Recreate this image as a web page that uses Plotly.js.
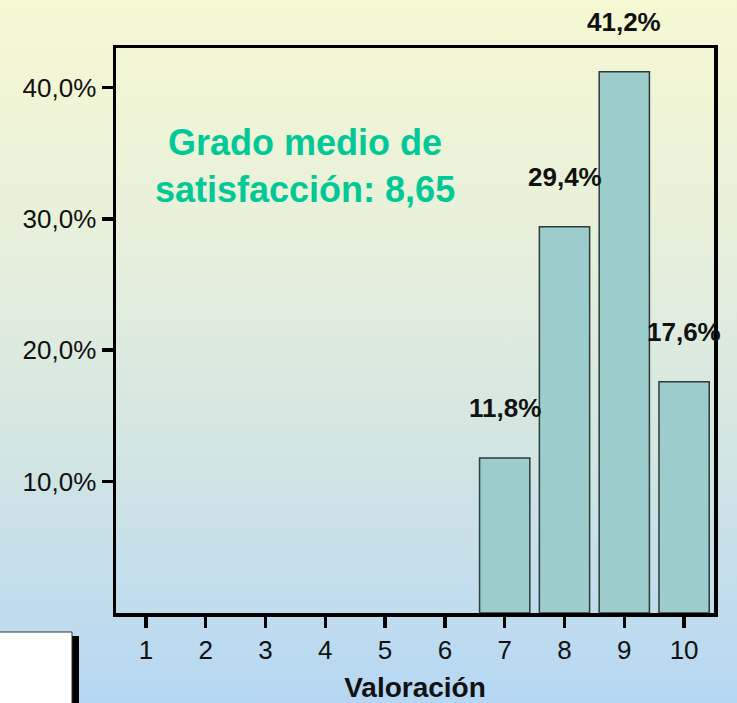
<!DOCTYPE html>
<html>
<head>
<meta charset="utf-8">
<script src="https://cdn.plot.ly/plotly-3.0.1.min.js"></script>
<style>
  html, body { margin: 0; padding: 0; }
  #chart { width: 737px; height: 703px;
    background: linear-gradient(to bottom, #f6f8d3 0%, #e9f1da 30%, #d6e7e2 60%, #b6d7f3 100%); }
</style>
</head>
<body>
<div id="chart"></div>
<script>
// Data
const categories = [1, 2, 3, 4, 5, 6, 7, 8, 9, 10];
const percentages = [0, 0, 0, 0, 0, 0, 11.8, 29.4, 41.2, 17.6];
const valueLabels = ["", "", "", "", "", "", "11,8%", "29,4%", "41,2%", "17,6%"];
const yTickVals = [10, 20, 30, 40];
const yTickText = ["10,0%", "20,0%", "30,0%", "40,0%"];
const xTitle = "Valoración";
const noteLines = ["Grado medio de", "satisfacción: 8,65"];

const font = "Arial, 'Liberation Sans', sans-serif";

const trace = {
  type: "bar",
  x: categories,
  y: percentages,
  width: 0.84,
  marker: {
    color: "rgb(156,204,204)",
    line: { color: "#2f3a3a", width: percentages.map(v => (v > 0 ? 1.5 : 0)) }
  },
  hoverinfo: "skip"
};

const annotations = [];
categories.forEach((c, i) => {
  if (valueLabels[i]) {
    annotations.push({
      x: c, y: percentages[i], xref: "x", yref: "y",
      text: "<b>" + valueLabels[i] + "</b>",
      showarrow: false, yshift: 50,
      font: { family: font, size: 26, color: "#111" }
    });
  }
});
annotations.push({
  x: 3.66, y: 34.0, xref: "x", yref: "y",
  text: "<b>" + noteLines.join("<br>") + "</b>",
  showarrow: false,
  font: { family: font, size: 36, color: "#00c896" }
});

const layout = {
  width: 737, height: 703,
  margin: { l: 116, r: 23, t: 48, b: 90 },
  paper_bgcolor: "rgba(0,0,0,0)",
  plot_bgcolor: "rgba(0,0,0,0)",
  showlegend: false,
  xaxis: {
    range: [0.5, 10.5],
    tickvals: categories,
    ticktext: categories.map(String),
    ticks: "outside", ticklen: 11, tickwidth: 3.5, tickcolor: "#000",
    showline: true, linewidth: 3.5, linecolor: "#000", mirror: true,
    showgrid: false, zeroline: false, fixedrange: true,
    tickfont: { family: font, size: 26, color: "#111" },
    title: { text: "<b>" + xTitle + "</b>", font: { family: font, size: 28, color: "#111" }, standoff: 16 }
  },
  yaxis: {
    range: [0, 43],
    tickvals: yTickVals,
    ticktext: yTickText,
    ticks: "outside", ticklen: 11, tickwidth: 3.5, tickcolor: "#000",
    showline: true, linewidth: 3.5, linecolor: "#000", mirror: true,
    showgrid: false, zeroline: false, fixedrange: true,
    tickfont: { family: font, size: 26, color: "#111" }
  },
  annotations: annotations,
  shapes: [
    { type: "rect", xref: "paper", yref: "paper", x0: (72 - 116) / 598, x1: (79 - 116) / 598,
      y0: (613 - 636) / 565, y1: (613 - 710) / 565, fillcolor: "#000", line: { width: 0 } },
    { type: "rect", xref: "paper", yref: "paper", x0: (-5 - 116) / 598, x1: (72 - 116) / 598,
      y0: (613 - 632) / 565, y1: (613 - 710) / 565, fillcolor: "#fff", line: { color: "#333", width: 1 } }
  ]
};

Plotly.newPlot("chart", [trace], layout, { staticPlot: true, displayModeBar: false });
</script>
</body>
</html>
